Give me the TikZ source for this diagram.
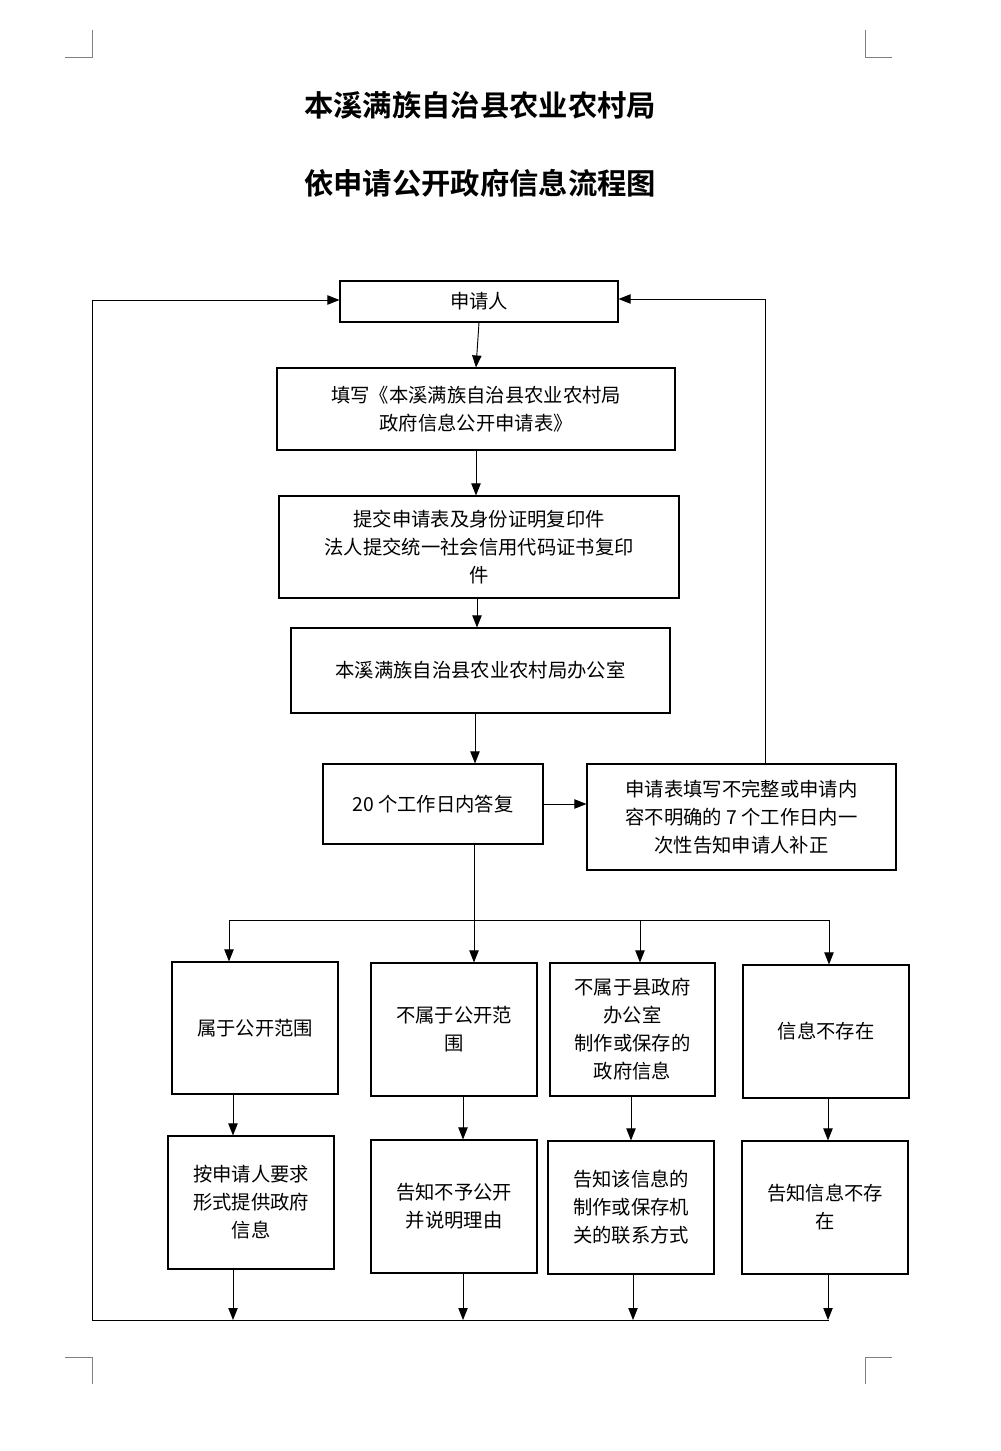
\documentclass[tikz,border=0pt]{standalone}
\usepackage{fontspec}
\newfontfamily\cjk{Noto Sans CJK SC}
\newfontfamily\cjkb{Noto Sans CJK SC Bold}
\usetikzlibrary{arrows.meta}
\begin{document}
\begin{tikzpicture}[x=0.75pt,y=-0.75pt,
 box/.style={draw,line width=0.8pt,align=center,font=\cjk\fontsize{14.5}{21}\selectfont,inner sep=0pt},
 arr/.style={-{Triangle[length=9pt,width=7pt]},line width=0.7pt},
 ln/.style={line width=0.7pt},
 mk/.style={line width=0.6pt,gray}]
\useasboundingbox (0,0) rectangle (1000,1451);
\fill[white] (0,0) rectangle (1000,1451);
% corner marks
\draw[mk] (92,30)--(92,57)--(65,57);
\draw[mk] (865,30)--(865,57)--(892,57);
\draw[mk] (65,1357)--(92,1357)--(92,1384);
\draw[mk] (892,1357)--(865,1357)--(865,1384);
% titles
\node[font=\cjkb\fontsize{22}{26}\selectfont] (t1) at (480,105) {本溪满族自治县农业农村局};
\node[font=\cjkb\fontsize{22}{26}\selectfont] (t2) at (480,183) {依申请公开政府信息流程图};
% boxes
\newcommand{\bx}[6]{\node[box,minimum width=(#4-#2)*0.75pt,minimum height=(#5-#3)*0.75pt] (#1) at ({(#2+#4)/2},{(#3+#5)/2}) {#6};}
\bx{s}{340}{281}{618}{322}{申请人}
\bx{f}{277}{368}{675}{450}{填写《本溪满族自治县农业农村局\\政府信息公开申请表》}
\bx{p}{279}{496}{679}{598}{提交申请表及身份证明复印件\\法人提交统一社会信用代码证书复印\\件}
\bx{o}{291}{628}{670}{713}{本溪满族自治县农业农村局办公室}
\bx{d}{323}{764}{543}{844}{20 个工作日内答复}
\bx{r}{587}{764}{896}{870}{申请表填写不完整或申请内\\容不明确的 7 个工作日内一\\次性告知申请人补正}
\bx{a1}{172}{962}{338}{1094}{属于公开范围}
\bx{b1}{371}{963}{537}{1096}{不属于公开范\\围}
\bx{c1}{550}{963}{715}{1096}{不属于县政府\\办公室\\制作或保存的\\政府信息}
\bx{e1}{743}{965}{909}{1098}{信息不存在}
\bx{a2}{168}{1136}{334}{1269}{按申请人要求\\形式提供政府\\信息}
\bx{b2}{371}{1140}{537}{1273}{告知不予公开\\并说明理由}
\bx{c2}{548}{1141}{714}{1274}{告知该信息的\\制作或保存机\\关的联系方式}
\bx{e2}{742}{1141}{908}{1274}{告知信息不存\\在}
% main arrows
\draw[arr] (s.south) -- (f.north);
\draw[arr] (f.south-|476,0) -- (p.north-|476,0);
\draw[arr] (477,598) -- (o.north-|477,0);
\draw[arr] (475,713) -- (d.north-|475,0);
\draw[arr] (d.east) -- (r.west|-d.east);
% feedback right
\coordinate (fr1) at (765,299);
\draw[arr] (r.north-|fr1) -- (fr1) -- (s.east|-fr1);
% branch
\coordinate (bj) at (474,920);
\draw[ln] (d.south-|bj) -- (bj);
\draw[ln] (229,920) -- (829,920);
\draw[arr] (229,920) -- (a1.north-|229,0);
\draw[arr] (474,920) -- (b1.north-|474,0);
\draw[arr] (640,920) -- (c1.north-|640,0);
\draw[arr] (829,920) -- (e1.north-|829,0);
% row arrows
\draw[arr] (a1.south-|233,0) -- (a2.north-|233,0);
\draw[arr] (b1.south-|463,0) -- (b2.north-|463,0);
\draw[arr] (c1.south-|631,0) -- (c2.north-|631,0);
\draw[arr] (e1.south-|828,0) -- (e2.north-|828,0);
% bottom
\coordinate (bl) at (92,1320);
\draw[arr] (a2.south-|233,0) -- (233,1320);
\draw[arr] (b2.south-|463,0) -- (463,1320);
\draw[arr] (c2.south-|633,0) -- (633,1320);
\draw[arr] (e2.south-|828,0) -- (828,1320);
\draw[ln] (829,1320) -- (bl);
\draw[arr] (bl) -- (92,300) -- (s.west|-0,300);
\end{tikzpicture}
\end{document}
